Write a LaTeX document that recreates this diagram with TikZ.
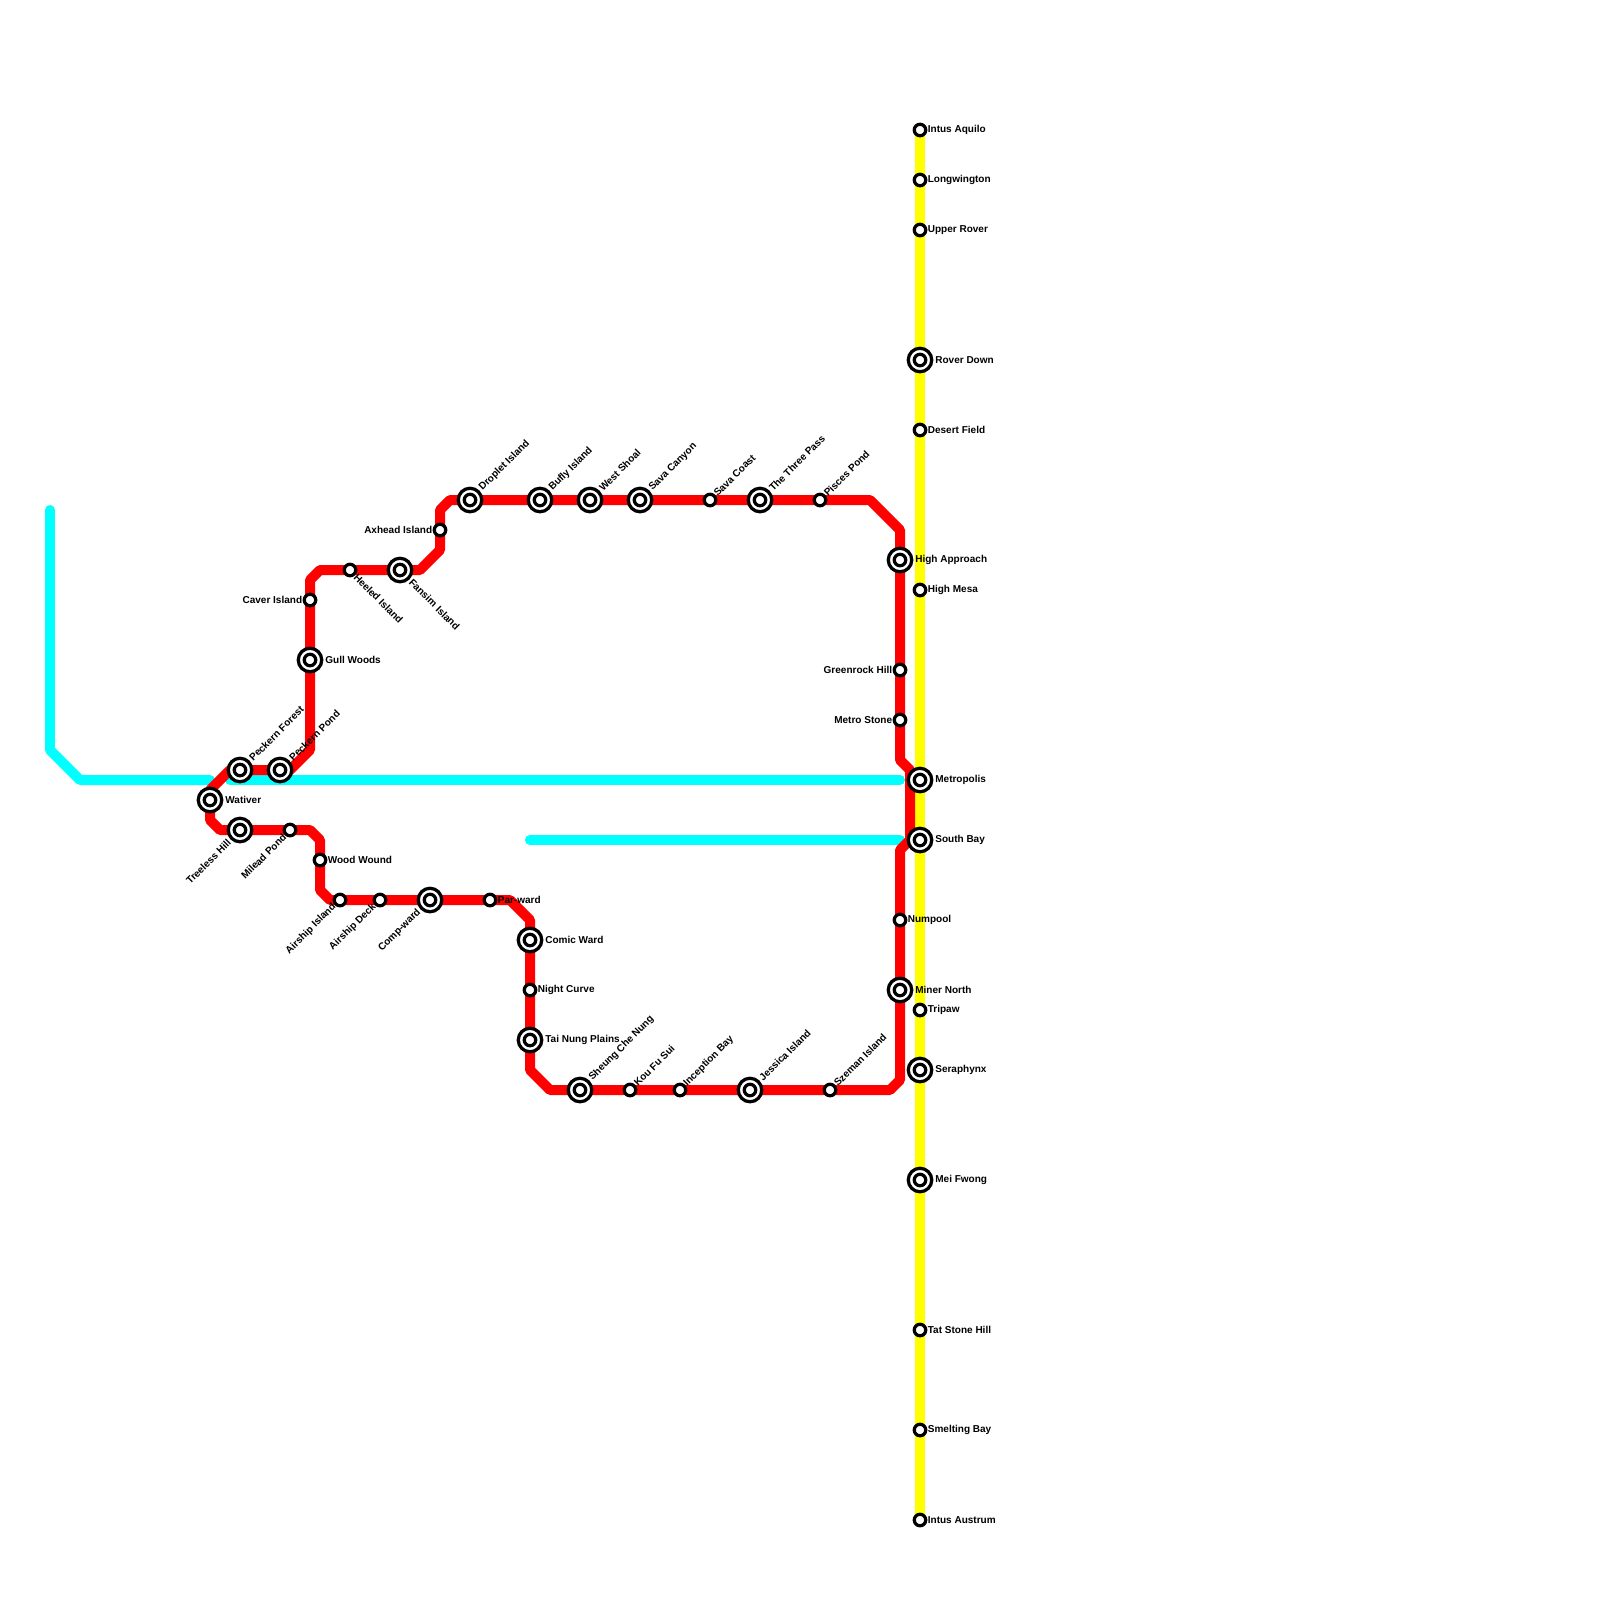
\documentclass[tikz,border=0pt]{standalone}
\usepackage{fontspec}
\setmainfont{Liberation Sans}
\usepackage{tikz}
\usetikzlibrary{positioning,backgrounds}
\definecolor{lineA}{RGB}{255,0,0}
\definecolor{lineB}{RGB}{0,255,255}
\definecolor{lineC}{RGB}{255,255,0}
\tikzset{
  stn/.style={circle,draw=black,fill=white,line width=0.065cm,minimum size=0.23cm,inner sep=0pt},
  hub/.style={circle,draw=black,fill=white,line width=0.065cm,minimum size=0.47cm,inner sep=0pt},
  lbl/.style={inner sep=0pt,text=black,font=\fontsize{5.7}{6.8}\selectfont\bfseries},
  stnE/.style={lbl,anchor=west,xshift=0.15cm,yshift=0.005cm},
  stnW/.style={lbl,anchor=east,xshift=-0.15cm,yshift=0.005cm},
  stnNE/.style={lbl,anchor=west,rotate=45,xshift=0.15cm},
  stnSE/.style={lbl,anchor=west,rotate=-45,xshift=0.15cm},
  stnSW/.style={lbl,anchor=east,rotate=45,xshift=-0.15cm},
  hubE/.style={lbl,anchor=west,xshift=0.3cm,yshift=0.005cm},
  hubNE/.style={lbl,anchor=west,rotate=45,xshift=0.3cm},
  hubSE/.style={lbl,anchor=west,rotate=-45,xshift=0.3cm},
  hubSW/.style={lbl,anchor=east,rotate=45,xshift=-0.3cm},
  route/.style={line width=0.2cm,line join=round,line cap=round},
}
\begin{document}
\begin{tikzpicture}[x=0.02cm,y=-0.02cm]
\useasboundingbox (0,0) rectangle (1600,1600);
% small stations
\foreach \nm/\xx/\yy/\lab/\pos in {
  caver/310/600/Caver Island/stnW, heeled/350/570/Heeled Island/stnSE, axhead/440/530/Axhead Island/stnW,
  savacoast/710/500/Sava Coast/stnNE, pisces/820/500/Pisces Pond/stnNE,
  greenrock/900/670/Greenrock Hill/stnW, metrostone/900/720/Metro Stone/stnW, numpool/900/920/Numpool/stnE,
  szeman/830/1090/Szeman Island/stnNE, inception/680/1090/Inception Bay/stnNE, koufu/630/1090/Kou Fu Sui/stnNE,
  nightcurve/530/990/Night Curve/stnE, parward/490/900/Par-ward/stnE,
  airdeck/380/900/Airship Deck/stnSW, airisland/340/900/Airship Island/stnSW,
  woodwound/320/860/Wood Wound/stnE, milead/290/830/Milead Pond/stnSW,
  aquilo/920/130/Intus Aquilo/stnE, longw/920/180/Longwington/stnE, upper/920/230/Upper Rover/stnE,
  desert/920/430/Desert Field/stnE, mesa/920/590/High Mesa/stnE, tripaw/920/1010/Tripaw/stnE,
  tatstone/920/1330/Tat Stone Hill/stnE, smelting/920/1430/Smelting Bay/stnE, austrum/920/1520/Intus Austrum/stnE}
{
  \node[stn] (\nm) at (\xx,\yy) {};
  \node[\pos] (\nm-lab) at (\xx,\yy) {\lab};
}
% interchange stations
\foreach \nm/\xx/\yy/\lab/\pos in {
  wativer/210/800/Wativer/hubE, pforest/240/770/Peckern Forest/hubNE, ppond/280/770/Peckern Pond/hubNE,
  gull/310/660/Gull Woods/hubE, fansim/400/570/Fansim Island/hubSE, droplet/470/500/Droplet Island/hubNE,
  bufly/540/500/Bufly Island/hubNE, westshoal/590/500/West Shoal/hubNE, savacanyon/640/500/Sava Canyon/hubNE,
  threepass/760/500/The Three Pass/hubNE, approach/900/560/High Approach/hubE,
  metropolis/920/780/Metropolis/hubE, southbay/920/840/South Bay/hubE,
  miner/900/990/Miner North/hubE, jessica/750/1090/Jessica Island/hubNE, sheung/580/1090/Sheung Che Nung/hubNE,
  tainung/530/1040/Tai Nung Plains/hubE, comic/530/940/Comic Ward/hubE, compward/430/900/Comp-ward/hubSW,
  treeless/240/830/Treeless Hill/hubSW, rover/920/360/Rover Down/hubE, seraphynx/920/1070/Seraphynx/hubE,
  meifwong/920/1180/Mei Fwong/hubE}
{
  \node[hub] (\nm) at (\xx,\yy) {};
  \node[stn] (\nm-in) at (\xx,\yy) {};
  \node[\pos] (\nm-lab) at (\xx,\yy) {\lab};
}
% bends of the lines
\foreach \nm/\xx/\yy in {c1/50/510,c2/50/750,c3/80/780,c4/210/780,c5/230/780,c6/900/780,c7/530/840,c8/900/840,
  r0/290/770,r1/310/750,r2/310/580,r3/320/570,r4/420/570,r5/440/550,r6/440/510,r7/450/500,r8/870/500,r9/900/530,r10/900/760,
  r11/910/770,r12/910/840,r13/900/850,r14/900/1080,r15/890/1090,r16/550/1090,r17/530/1070,r18/530/920,r19/510/900,
  r20/330/900,r21/320/890,r22/320/840,r23/310/830,r24/220/830,r25/210/820,r26/210/790,r27/230/770}
  \coordinate (\nm) at (\xx,\yy);
\begin{scope}[on background layer]
\draw[route,lineC] (aquilo.center) -- (austrum.center);
\draw[route,lineB] (c1) -- (c2) -- (c3) -- (c4);
\draw[route,lineB] (c5) -- (c6);
\draw[route,lineB] (c7) -- (c8);
% main line, starting at Wativer going up
\draw[route,lineA] (wativer.center) -- (r26) -- (r27) -- (pforest.center) -- (ppond.center) -- (r0) -- (r1) -- (gull.center) -- (caver.center) -- (r2) -- (r3)
  -- (heeled.center) -- (fansim.center) -- (r4) -- (r5) -- (axhead.center) -- (r6) -- (r7) -- (droplet.center)
  -- (r8) -- (r9) -- (r10) -- (r11) -- (r12) -- (r13) -- (r14) -- (r15) -- (r16) -- (r17) -- (r18) -- (r19)
  -- (r20) -- (r21) -- (r22) -- (r23) -- (r24) -- (r25) -- cycle;
\end{scope}
\end{tikzpicture}
\end{document}
